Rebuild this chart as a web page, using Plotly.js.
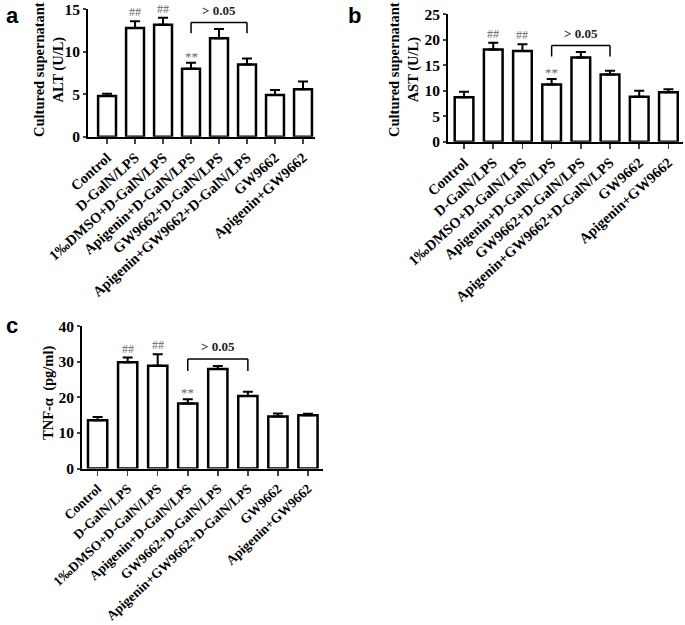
<!DOCTYPE html>
<html><head><meta charset="utf-8">
<script src="https://cdn.plot.ly/plotly-3.0.1.min.js"></script>
<style>body{margin:0;background:#fff}#chart{width:685px;height:625px}</style>
</head><body><div id="chart"></div>
<script>
const categories = ["Control","D-GalN/LPS","1‰DMSO+D-GalN/LPS","Apigenin+D-GalN/LPS","GW9662+D-GalN/LPS","Apigenin+GW9662+D-GalN/LPS","GW9662","Apigenin+GW9662"];
const altMean = [4.8, 12.8, 13.2, 8.0, 11.6, 8.5, 4.9, 5.6];
const altErr  = [0.25, 0.8, 0.8, 0.7, 1.1, 0.7, 0.6, 0.9];
const astMean = [8.7, 18.1, 17.8, 11.2, 16.5, 13.2, 8.8, 9.7];
const astErr  = [1.1, 1.3, 1.3, 1.1, 1.1, 0.7, 1.2, 0.6];
const tnfMean = [13.6, 29.9, 28.9, 18.3, 28.0, 20.4, 14.6, 15.0];
const tnfErr  = [0.9, 1.3, 3.2, 1.2, 0.8, 1.2, 0.9, 0.4];
const yTitles = ["Cultured supernatant<br>ALT (U/L)", "Cultured supernatant<br>AST (U/L)", "TNF-α  (pg/ml)"];
const yTicks = [[0, 5, 10, 15], [0, 5, 10, 15, 20, 25], [0, 10, 20, 30, 40]];
const panelLetters = ["a", "b", "c"];
const pLabel = "> 0.05";

const serif = "Liberation Serif, Times New Roman, serif";
const W = 685, H = 625;
const panels = [
  {mean: altMean, err: altErr, ticks: yTicks[0], xd: [0.1285, 0.4599], yd: [0.7813, 0.9854], xr: [-0.68, 7.43], tpos: [49, 69], ang: -42, fs: 14.5},
  {mean: astMean, err: astErr, ticks: yTicks[1], xd: [0.6540, 0.9971], yd: [0.7733, 0.9776], xr: [-0.55, 7.5], tpos: [404, 70], ang: -42, fs: 14.5},
  {mean: tnfMean, err: tnfErr, ticks: yTicks[2], xd: [0.1197, 0.4715], yd: [0.2504, 0.4784], xr: [-0.52, 7.5], tpos: [48, 393], ang: -43, fs: 13.5}
];
const traces = [], shapes = [], annotations = [];
const layout = {
  width: W, height: H, margin: {l: 0, r: 0, t: 0, b: 0},
  paper_bgcolor: "#fff", plot_bgcolor: "rgba(0,0,0,0)", showlegend: false,
  font: {family: serif, color: "#000"}
};
const letterPos = [[4, 1], [346, 1], [4, 311]];
panels.forEach((p, i) => {
  const n = i === 0 ? "" : String(i + 1);
  const xa = "x" + n, ya = "y" + n;
  const yMax = p.ticks[p.ticks.length - 1];
  traces.push({
    type: "bar", x: categories.map((c, k) => k), y: p.mean, xaxis: xa, yaxis: ya,
    marker: {color: "#fff", line: {color: "#000", width: 2.5}}, width: 0.64,
    error_y: {type: "data", array: p.err, arrayminus: p.err.map(() => 0), symmetric: false,
              color: "#000", thickness: 2, width: 5},
    hoverinfo: "skip"
  });
  layout["xaxis" + n] = {
    domain: p.xd, range: p.xr, anchor: ya, tickmode: "array",
    tickvals: categories.map((c, k) => k), ticktext: categories, tickangle: p.ang,
    ticks: "outside", ticklen: 5, tickwidth: 1.5, showline: true, linewidth: 2, linecolor: "#000",
    showgrid: false, zeroline: false, ticklabeloverflow: "allow",
    tickfont: {family: serif, size: p.fs, weight: "bold"}
  };
  layout["yaxis" + n] = {
    domain: p.yd, range: [0, yMax * 1.002], anchor: xa, tickmode: "array", tickvals: p.ticks,
    ticks: "outside", ticklen: 3, tickwidth: 2, showline: true, linewidth: 2, linecolor: "#000",
    showgrid: false, zeroline: false, ticklabeloverflow: "allow",
    tickfont: {family: serif, size: 15.5, weight: "bold"}
  };
  annotations.push({xref: "paper", yref: "paper", x: p.tpos[0] / W, y: 1 - p.tpos[1] / H,
    xanchor: "center", yanchor: "middle", textangle: -90, showarrow: false, text: yTitles[i],
    font: {family: serif, size: 14.5, weight: "bold"}});
  const span = yMax;
  const tops = p.mean.map((m, k) => m + p.err[k]);
  const by = Math.max(tops[3], tops[4], tops[5]) + 0.05 * span;
  const drop = 0.085 * span;
  const ln = {color: "#000", width: 1.5};
  shapes.push({type: "line", xref: xa, yref: ya, x0: 3, x1: 5, y0: by, y1: by, line: ln});
  shapes.push({type: "line", xref: xa, yref: ya, x0: 3, x1: 3, y0: by, y1: by - drop, line: ln});
  shapes.push({type: "line", xref: xa, yref: ya, x0: 5, x1: 5, y0: by, y1: by - drop, line: ln});
  annotations.push({xref: xa, yref: ya, x: 4, y: by, yanchor: "bottom", yshift: 3, showarrow: false,
    text: pLabel, font: {family: serif, size: 13, weight: "bold", color: "#222"}});
  [1, 2].forEach(k => annotations.push({xref: xa, yref: ya, x: k, y: tops[k], yanchor: "bottom", yshift: 0,
    showarrow: false, text: "##", font: {family: serif, size: 12, color: "#666"}}));
  annotations.push({xref: xa, yref: ya, x: 3, y: tops[3], yanchor: "bottom", yshift: -3,
    showarrow: false, text: "**", font: {family: serif, size: 13, color: "#666"}});
  annotations.push({xref: "paper", yref: "paper", x: letterPos[i][0] / W, y: 1 - letterPos[i][1] / H,
    xanchor: "left", yanchor: "top", showarrow: false, text: "<b>" + panelLetters[i] + "</b>",
    font: {family: "Liberation Sans, Arial, sans-serif", size: 22, color: "#000"}});
});
layout.shapes = shapes;
layout.annotations = annotations;
Plotly.newPlot("chart", traces, layout, {staticPlot: true});
</script></body></html>
